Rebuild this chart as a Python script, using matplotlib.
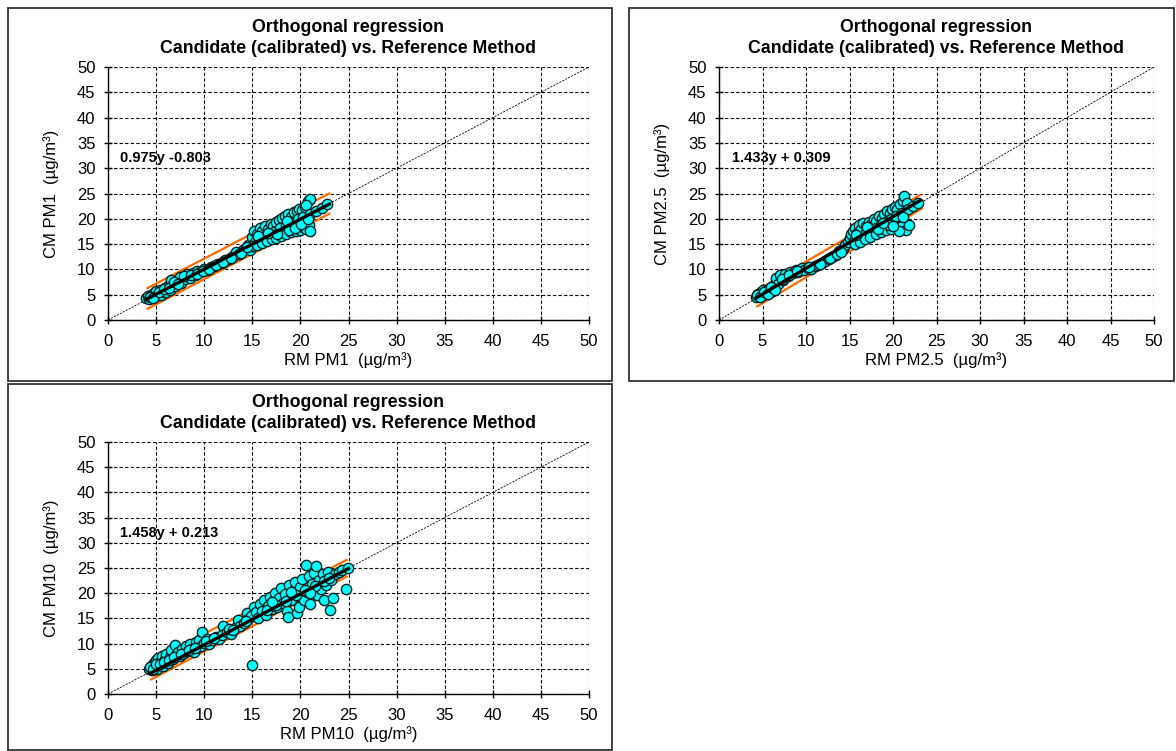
import numpy as np
import matplotlib.pyplot as plt
from matplotlib.patches import Rectangle

plt.rcParams['font.family'] = ['Liberation Sans', 'DejaVu Sans']

# ---- data ----
pm1_rm = [4.0, 4.2, 4.3, 4.5, 4.6, 4.8, 5.0, 5.0, 5.2, 5.4, 5.5, 5.7, 5.9, 6.0, 6.2, 6.4, 6.5, 6.6, 6.8, 7.0,
          7.2, 7.5, 7.6, 8.0, 8.2, 8.5, 8.8, 9.0, 9.3, 9.6, 10.0, 10.3, 10.7, 11.0, 11.4, 11.8, 12.2, 12.6, 13.0, 13.3,
          13.6, 14.0, 14.3, 14.6, 14.8,
          15.0, 15.2, 15.5, 15.8, 16.0, 16.3, 16.6, 16.9, 17.2, 17.5, 17.8, 18.1, 18.4, 18.7, 19.0, 19.3, 19.6, 19.9,
          20.2, 20.5, 20.8, 21.0, 20.6,
          15.3, 15.7, 16.2, 16.8, 17.3, 17.9, 18.5, 19.1, 19.7, 20.3, 21.0, 21.6, 22.2, 22.8,
          15.0, 15.5, 16.0, 16.5, 17.0, 17.5, 18.0, 18.5, 19.0, 19.5, 20.0, 20.3, 20.6, 20.9, 21.0, 19.8, 18.8,
          4.4, 4.7, 5.3, 5.8, 6.3, 6.9, 7.3, 7.9, 8.6, 9.2, 9.9, 10.5, 11.2, 12.0, 12.8, 13.8, 14.5, 15.6, 16.6,
          17.6, 18.6, 19.4, 20.1, 20.8]
pm1_cm = [4.3, 4.8, 4.2, 5.0, 4.5, 5.3, 4.8, 5.8, 5.2, 6.0, 5.0, 5.6, 6.3, 5.5, 6.8, 6.0, 7.5, 8.0, 7.0, 6.8,
          7.8, 8.5, 7.4, 8.2, 9.0, 8.3, 9.3, 8.8, 9.6, 9.4, 10.0, 9.8, 10.4, 10.6, 11.0, 11.3, 11.8, 12.1, 12.6, 13.4,
          13.0, 13.8, 14.2, 14.8, 13.9,
          16.5, 17.5, 17.0, 18.2, 17.6, 18.5, 18.0, 19.0, 18.6, 19.4, 19.8, 20.2, 20.6, 21.0, 20.4, 21.3, 21.6, 22.0,
          21.8, 22.3, 23.5, 24.0, 22.8,
          15.5, 16.0, 16.4, 17.0, 17.4, 18.1, 18.7, 19.2, 19.9, 20.4, 21.0, 21.6, 22.2, 22.9,
          14.6, 14.8, 15.2, 15.6, 16.0, 16.2, 16.6, 17.0, 17.3, 17.6, 17.8, 18.4, 18.0, 18.8, 17.5, 18.5, 17.8,
          4.6, 4.4, 5.5, 6.1, 6.4, 7.6, 7.2, 8.6, 8.9, 9.1, 9.6, 10.1, 10.8, 11.5, 12.3, 13.2, 14.4, 16.6, 17.2,
          17.0, 19.5, 18.2, 19.0, 20.0]

pm25_rm = [4.3, 4.5, 4.6, 4.8, 5.0, 5.1, 5.3, 5.5, 5.7, 5.9, 6.1, 6.3, 6.5, 6.6, 6.8, 7.0, 7.3, 7.6, 7.9, 8.2,
           8.5, 8.8, 9.1, 9.5, 9.8, 10.2, 10.6, 11.0, 11.4, 11.8, 12.2, 12.6, 13.0, 13.4, 13.8, 14.2, 14.5, 14.8,
           15.0, 15.2, 15.4, 15.6, 15.9, 16.1, 16.3, 16.6, 16.9, 17.2, 17.5, 17.8, 18.1, 18.4, 18.7, 19.0, 19.3,
           19.6, 19.9, 20.2, 20.5, 20.8, 21.1, 21.3, 21.6,
           15.5, 16.2, 16.8, 17.4, 18.0, 18.6, 19.2, 19.8, 20.4, 21.0, 21.7, 22.3, 22.9,
           15.6, 16.2, 16.8, 17.4, 18.0, 18.6, 19.2, 19.8, 20.4, 21.0, 21.5, 21.8, 20.7, 19.5, 18.3,
           4.4, 4.7, 5.2, 5.6, 6.0, 6.4, 7.2, 8.0, 9.0, 10.4, 11.6, 12.8, 13.6, 14.0, 15.8, 17.0, 18.8, 20.0, 21.2]
pm25_cm = [4.6, 5.2, 4.8, 5.5, 5.0, 5.9, 5.4, 6.0, 5.3, 6.2, 5.8, 6.8, 7.5, 8.3, 7.2, 8.8, 8.0, 9.0, 8.6, 9.5,
           9.2, 9.8, 9.4, 10.2, 9.8, 10.3, 10.1, 10.6, 10.9, 11.2, 11.6, 12.0, 12.5, 12.9, 13.6, 14.0, 14.8, 15.5,
           16.2, 17.0, 17.6, 18.2, 17.2, 18.8, 18.0, 19.2, 18.6, 19.4, 19.0, 20.0, 19.6, 20.6, 20.2, 21.0, 21.5,
           21.2, 22.0, 22.4, 22.0, 23.0, 23.5, 24.6, 23.2,
           15.6, 16.3, 16.9, 17.6, 18.2, 18.8, 19.3, 20.0, 20.6, 21.2, 21.9, 22.5, 23.1,
           15.0, 15.5, 16.0, 16.5, 17.0, 17.4, 17.8, 18.0, 18.3, 18.6, 17.8, 18.8, 17.6, 18.7, 17.9,
           4.9, 4.6, 5.6, 5.1, 6.5, 5.9, 8.2, 8.9, 9.6, 10.4, 11.0, 12.2, 13.1, 13.4, 16.8, 18.4, 19.2, 18.6, 20.4]

pm10_rm = [4.3, 4.5, 4.6, 4.8, 4.9, 5.0, 5.1, 5.2, 5.3, 5.5, 5.6, 5.7, 5.9, 6.0, 6.2, 6.4, 6.6, 6.8, 7.0, 7.1,
           7.3, 7.5, 7.7, 7.9, 8.1, 8.3, 8.5, 8.7, 8.9, 9.1, 9.3, 9.5, 9.8, 9.7, 10.0, 10.3, 10.5, 10.8, 11.2,
           11.5, 12.0, 11.9, 12.4, 12.8, 13.2, 13.5, 13.7, 14.1, 14.4, 14.6, 14.9, 15.0, 15.2, 15.4, 15.6, 15.8,
           16.0, 16.2, 16.4, 16.6, 16.8, 17.0, 17.2, 17.4, 17.6, 17.8, 18.0, 18.2, 18.4, 18.6, 18.7, 18.8, 19.0,
           19.2, 19.4, 19.6, 19.7, 19.9, 20.0, 20.2, 20.4, 20.6, 20.7, 20.9, 21.0, 21.2, 21.4, 21.6, 21.7, 21.9,
           22.1, 22.3, 22.5, 22.7, 22.9, 23.1, 23.2, 23.4, 23.6, 24.0, 24.3, 24.7, 24.9,
           16.5, 17.5, 18.5, 19.5, 20.5, 21.5, 22.5, 23.0, 17.0, 19.0, 21.0,
           4.4, 4.7, 5.0, 5.4, 5.8, 6.3, 6.9, 7.6, 8.4, 9.0, 10.2, 11.0, 12.6, 13.0, 14.3]
pm10_cm = [5.0, 5.6, 4.8, 6.2, 5.3, 6.8, 5.0, 7.2, 5.8, 6.5, 7.6, 5.5, 6.9, 8.0, 6.2, 7.3, 8.7, 7.0, 9.8, 7.8,
           8.4, 7.5, 9.0, 8.2, 9.5, 8.6, 10.0, 9.0, 8.4, 10.3, 9.3, 10.8, 12.4, 9.6, 10.2, 11.0, 9.9, 10.8, 11.4,
           10.9, 13.5, 11.8, 12.3, 12.0, 13.0, 14.7, 13.5, 14.0, 16.0, 14.8, 15.4, 5.7, 17.3, 16.2, 15.0, 17.8,
           16.5, 18.6, 15.6, 17.5, 19.2, 16.8, 18.4, 20.0, 17.2, 19.0, 21.0, 18.0, 19.8, 16.4, 15.3, 21.6, 18.6,
           20.4, 22.2, 16.0, 19.4, 17.3, 21.2, 22.8, 18.6, 25.6, 20.2, 23.4, 17.8, 21.8, 24.0, 25.3, 19.6, 22.6,
           20.8, 23.8, 18.6, 21.6, 24.2, 16.7, 22.6, 19.0, 23.8, 24.2, 24.6, 20.9, 25.0,
           16.6, 17.6, 18.4, 19.6, 20.6, 21.4, 22.4, 23.1, 18.2, 20.2, 20.0,
           5.4, 5.0, 5.9, 6.0, 6.4, 6.8, 7.4, 8.0, 8.8, 9.1, 10.6, 11.2, 12.8, 12.6, 14.4]

# regression line (black) and band lines (orange) end points
pm1_fit_x, pm1_fit_y = [4.0, 23.0], [4.1, 22.9]
pm1_up_x, pm1_up_y = [4.1, 23.0], [6.3, 25.0]
pm1_lo_x, pm1_lo_y = [4.1, 23.0], [2.2, 21.0]
pm25_fit_x, pm25_fit_y = [4.3, 23.1], [4.4, 23.6]
pm25_up_x, pm25_up_y = [4.5, 23.1], [6.0, 24.7]
pm25_lo_x, pm25_lo_y = [4.4, 23.3], [2.7, 22.0]
pm10_fit_x, pm10_fit_y = [4.4, 25.0], [4.1, 24.9]
pm10_up_x, pm10_up_y = [4.5, 24.8], [6.5, 26.6]
pm10_lo_x, pm10_lo_y = [4.5, 24.8], [2.9, 23.3]

ticks = np.arange(0, 51, 5)

W, H = 1176, 751
fig = plt.figure(figsize=(W / 100, H / 100), dpi=100)

# panel frames (pixels: x0, y0, x1, y1 from top-left)
for x0, y0, x1, y1 in [(8, 8, 612, 381), (629, 8, 1174, 381), (8, 384, 612, 750)]:
    fig.patches.append(Rectangle((x0 / W, 1 - y1 / H), (x1 - x0) / W, (y1 - y0) / H,
                                 transform=fig.transFigure, fill=False,
                                 edgecolor='#333333', linewidth=1.3))


def panel(rect, rm, cm, fit, up, lo, eq, eq_x, name):
    l, t, r, b = rect
    ax = fig.add_axes([l / W, 1 - b / H, (r - l) / W, (b - t) / H])
    ax.set_xlim(0, 50)
    ax.set_ylim(0, 50)
    ax.set_xticks(ticks)
    ax.set_yticks(ticks)
    ax.grid(True, color='black', linestyle=(0, (3, 2)), linewidth=0.8)
    ax.set_axisbelow(True)
    for s in ['top', 'right']:
        ax.spines[s].set_visible(False)
    for s in ['left', 'bottom']:
        ax.spines[s].set_linewidth(1.0)
    ax.tick_params(direction='inout', length=6, width=1.0, labelsize=12)
    ax.tick_params(axis='x', pad=7)
    ax.tick_params(axis='y', pad=6)
    ax.plot([0, 50], [0, 50], color='black', linestyle=(0, (2.5, 1.5)), linewidth=0.6, zorder=1)
    ax.plot(up[0], up[1], color='#FF6A00', linewidth=1.6, zorder=2)
    ax.plot(lo[0], lo[1], color='#FF6A00', linewidth=1.6, zorder=2)
    ax.scatter(rm, cm, s=55, color='#00FFFF', edgecolors='#0a2020', linewidths=1.0, zorder=3)
    ax.plot(fit[0], fit[1], color='black', linewidth=2.4, zorder=4)
    ax.text(eq_x, 32.0, eq, fontsize=10.5, fontweight='bold', va='center', ha='left')
    ax.set_title('Orthogonal regression\nCandidate (calibrated) vs. Reference Method',
                 fontsize=12.8, fontweight='bold', pad=10, linespacing=1.35)
    ax.set_xlabel('RM %s  (µg/m³)' % name, fontsize=12, labelpad=2)
    ax.set_ylabel('CM %s  (µg/m³)' % name, fontsize=12, labelpad=13)
    return ax


panel((108, 67, 589, 320), pm1_rm, pm1_cm,
      (pm1_fit_x, pm1_fit_y), (pm1_up_x, pm1_up_y), (pm1_lo_x, pm1_lo_y), '0.975y -0.803', 1.2, 'PM1')
panel((719, 67, 1154, 320), pm25_rm, pm25_cm,
      (pm25_fit_x, pm25_fit_y), (pm25_up_x, pm25_up_y), (pm25_lo_x, pm25_lo_y), '1.433y + 0.309', 1.5, 'PM2.5')
panel((108, 442, 589, 694), pm10_rm, pm10_cm,
      (pm10_fit_x, pm10_fit_y), (pm10_up_x, pm10_up_y), (pm10_lo_x, pm10_lo_y), '1.458y + 0.213', 1.2, 'PM10')

fig.savefig('out.png', dpi=100)
